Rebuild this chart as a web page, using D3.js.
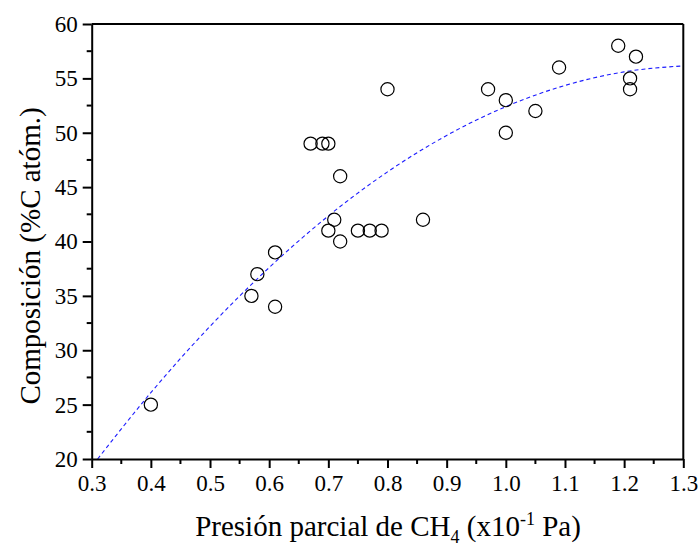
<!DOCTYPE html>
<html><head><meta charset="utf-8">
<script src="https://cdn.jsdelivr.net/npm/d3@7"></script>
<style>body{margin:0;background:#fff}svg{display:block}
svg text{font-family:'Liberation Serif','Times New Roman',Tinos,'DejaVu Serif',serif;}</style>
</head><body>
<svg id="c" width="699" height="552"></svg>
<script>
const pressure = [0.40,0.57,0.58,0.61,0.61,0.67,0.69,0.70,0.72,0.71,0.70,0.72,0.75,0.77,0.79,0.80,0.86,0.97,1.00,1.00,1.05,1.09,1.19,1.22,1.21,1.21];
const carbon   = [25,35,37,39,34,49,49,49,46,42,41,40,41,41,41,54,42,54,53,50,52,56,58,57,55,54];
const fitX = [0.31,0.4,0.5,0.6,0.7,0.8,0.9,1.0,1.1,1.2,1.3];
const fitY = [20.0,26.1,32.2,37.6,42.35,46.4,49.75,52.4,54.35,55.6,56.15];
const xTicks = [0.3,0.4,0.5,0.6,0.7,0.8,0.9,1.0,1.1,1.2,1.3];
const yTicks = [20,25,30,35,40,45,50,55,60];

const svg = d3.select('#c');
const L=91.7,R=683.3,T=24,B=459;
const x = d3.scaleLinear().domain([0.3,1.3]).range([L,R]);
const y = d3.scaleLinear().domain([20,60]).range([B,T]);

svg.append('path')
  .datum(fitX.map((v,i)=>[v,fitY[i]]))
  .attr('d', d3.line().x(d=>x(d[0])).y(d=>y(d[1])).curve(d3.curveMonotoneX))
  .attr('fill','none').attr('stroke','#1c1cff').attr('stroke-width',1.1)
  .attr('stroke-dasharray','4,3');

svg.append('line').attr('x1',L).attr('x2',R).attr('y1',T).attr('y2',T).attr('stroke','#000').attr('stroke-width',2);
svg.append('line').attr('x1',R).attr('x2',R).attr('y1',T).attr('y2',B).attr('stroke','#000').attr('stroke-width',2);

const gx = svg.append('g').attr('transform',`translate(0,${B})`);
gx.selectAll('line.m').data(d3.range(0.35,1.3,0.1)).join('line')
  .attr('x1',d=>x(d)).attr('x2',d=>x(d)).attr('y1',0).attr('y2',5).attr('stroke','#000').attr('stroke-width',2);
const gy = svg.append('g').attr('transform',`translate(${L},0)`);
gy.selectAll('line.m').data(d3.range(22.5,60,5)).join('line')
  .attr('y1',d=>y(d)).attr('y2',d=>y(d)).attr('x1',0).attr('x2',-5).attr('stroke','#000').attr('stroke-width',2);

const xAxis = d3.axisBottom(x).tickValues(xTicks).tickFormat(d3.format('.1f')).tickSize(9).tickSizeOuter(0).tickPadding(7);
const yAxis = d3.axisLeft(y).tickValues(yTicks).tickFormat(d3.format('d')).tickSize(9).tickSizeOuter(0).tickPadding(5);
gx.call(xAxis); gy.call(yAxis);
[gx,gy].forEach(g=>{
  g.attr('font-family',null);
  g.select('.domain').attr('stroke-width',2);
  g.selectAll('.tick line').attr('stroke-width',2);
  g.selectAll('.tick text').attr('font-size',23).attr('fill','#000');
});

svg.append('g').selectAll('circle').data(pressure.map((p,i)=>[p,carbon[i]])).join('circle')
  .attr('cx',d=>x(d[0])).attr('cy',d=>y(d[1])).attr('r',6.6)
  .attr('fill','none').attr('stroke','#000').attr('stroke-width',1.2);

const xt = svg.append('text').attr('x',388).attr('y',536).attr('text-anchor','middle')
  .attr('font-size',29).attr('fill','#000');
xt.append('tspan').text('Presión parcial de CH');
xt.append('tspan').text('4').attr('font-size',18).attr('dy',7);
xt.append('tspan').text(' (x10').attr('dy',-7);
xt.append('tspan').text('-1').attr('font-size',18).attr('dy',-11);
xt.append('tspan').text(' Pa)').attr('dy',11);

svg.append('text').attr('transform',`translate(40,256) rotate(-90)`).attr('text-anchor','middle')
  .attr('font-size',29).attr('fill','#000').text('Composición (%C atóm.)');
</script>
</body></html>
